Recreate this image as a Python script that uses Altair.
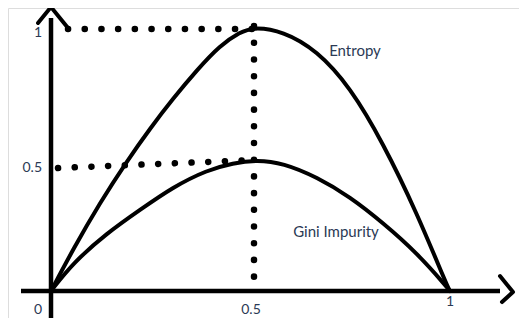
import altair as alt
import pandas as pd

# Curves (x = probability, y = impurity)
entropy_x = [0.0, 0.055, 0.1225, 0.19, 0.2475, 0.305, 0.365, 0.4225, 0.4725, 0.505, 0.58, 0.665, 0.7475, 0.83, 0.915, 0.99, 0.9975]
entropy_y = [0.0, 0.16, 0.34, 0.50, 0.625, 0.74, 0.85, 0.945, 0.995, 1.015, 1.0, 0.925, 0.785, 0.57, 0.30, 0.02, 0.0]
gini_x = [0.0, 0.055, 0.14, 0.2225, 0.305, 0.39, 0.455, 0.515, 0.58, 0.665, 0.7475, 0.83, 0.915, 0.99, 0.9975]
gini_y = [0.0, 0.108, 0.223, 0.312, 0.40, 0.465, 0.492, 0.504, 0.492, 0.438, 0.362, 0.262, 0.146, 0.015, 0.0]

# Tick labels
x_tick_values = [0.0, 0.5, 1.0]
x_tick_labels = ["0", "0.5", "1"]
y_tick_values = [0.992, 0.473]
y_tick_labels = ["1", "0.5"]

# Series names
series_names = ["Entropy", "Gini Impurity"]
series_label_x = [0.76, 0.7125]
series_label_y = [0.923, 0.227]

# Dotted guide lines (x, y, x2, y2)
guide_x = [0.0425, 0.0175, 0.5075]
guide_y = [1.0077, 0.473, 1.019]
guide_x2 = [0.5025, 0.51, 0.5075]
guide_y2 = [1.0077, 0.504, 0.008]

# Axis lines and arrow heads
axis_x = [-0.075, 0.0]
axis_y = [0.0, 1.05]
axis_x2 = [1.1225, 0.0]
axis_y2 = [0.0, -0.16]
arrow_r_x = [1.1225, 1.155, 1.1275]
arrow_r_y = [0.0577, -0.0038, -0.0423]
arrow_t_x = [-0.0325, 0.0, 0.0425]
arrow_t_y = [1.031, 1.092, 1.0115]

XD = [-0.1075, 1.17]
YD = [-0.1038, 1.0885]
xs = alt.Scale(domain=XD, nice=False, zero=False)
ys = alt.Scale(domain=YD, nice=False, zero=False)

curves = pd.DataFrame({
    "x": entropy_x + gini_x,
    "y": entropy_y + gini_y,
    "s": ["Entropy"] * len(entropy_x) + ["Gini"] * len(gini_x),
    "o": list(range(len(entropy_x))) + list(range(len(gini_x))),
})
arrows = pd.DataFrame({
    "x": arrow_r_x + arrow_t_x,
    "y": arrow_r_y + arrow_t_y,
    "s": ["r"] * 3 + ["t"] * 3,
    "o": [0, 1, 2, 0, 1, 2],
})
guides = pd.DataFrame({"x": guide_x, "y": guide_y, "x2": guide_x2, "y2": guide_y2})
axes = pd.DataFrame({"x": axis_x, "y": axis_y, "x2": axis_x2, "y2": axis_y2})
xt = pd.DataFrame({"x": x_tick_values, "t": x_tick_labels})
yt = pd.DataFrame({"y": y_tick_values, "t": y_tick_labels})
sl = pd.DataFrame({"x": series_label_x, "y": series_label_y, "t": series_names})

X = lambda f="x": alt.X(f, type="quantitative", scale=xs, axis=None)
Y = lambda f="y": alt.Y(f, type="quantitative", scale=ys, axis=None)

guide_layer = alt.Chart(guides).mark_rule(
    color="black", strokeWidth=6.5, strokeCap="round", strokeDash=[0.1, 16.6], clip=False
).encode(x=X(), y=Y(), x2="x2", y2="y2")

axis_layer = alt.Chart(axes).mark_rule(color="black", strokeWidth=4.5, clip=False).encode(
    x=X(), y=Y(), x2="x2", y2="y2")

curve_layer = alt.Chart(curves).mark_line(
    color="black", strokeWidth=4, interpolate="basis", strokeCap="round", clip=False
).encode(x=X(), y=Y(), detail="s:N", order="o:Q")

arrow_layer = alt.Chart(arrows).mark_line(
    color="black", strokeWidth=4, strokeCap="round", strokeJoin="round", clip=False
).encode(x=X(), y=Y(), detail="s:N", order="o:Q")

font = "Lato"
tcol = "#2b3a55"


def xtick(label, dx, dy):
    return alt.Chart(xt).transform_filter(alt.datum.t == label).mark_text(
        font=font, fontSize=14, color=tcol, baseline="middle", dx=dx, dy=dy
    ).encode(x=X(), y=alt.value(283), text="t:N")


yt_layer = alt.Chart(yt).mark_text(font=font, fontSize=14, color=tcol, align="right",
                                   baseline="middle", dx=-9).encode(x=alt.value(43), y=Y(), text="t:N")
sl_layer = alt.Chart(sl).mark_text(font=font, fontSize=15, color=tcol, baseline="middle").encode(
    x=X(), y=Y(), text="t:N")

chart = alt.layer(
    guide_layer, axis_layer, curve_layer, arrow_layer,
    xtick("0", -13, 19), xtick("0.5", 0, 19), xtick("1", -1, 11),
    yt_layer, sl_layer,
).properties(
    width=511, height=310, autosize=alt.AutoSizeParams(type="none"), padding=0
).configure_view(stroke=None).configure(background="white")

chart.save("out.html", embed_options={"renderer": "svg", "actions": False})
